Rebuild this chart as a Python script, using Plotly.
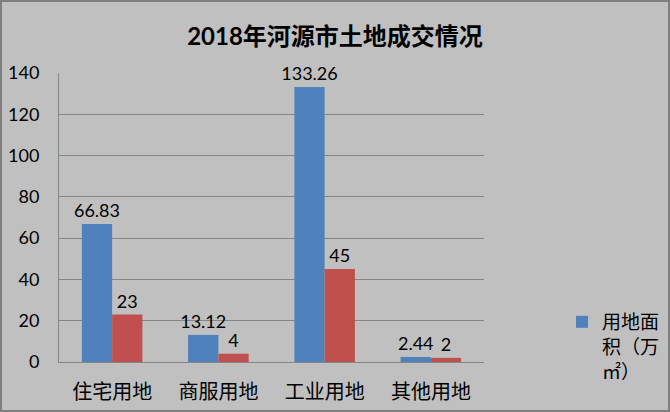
import plotly.graph_objects as go

categories = ["住宅用地", "商服用地", "工业用地", "其他用地"]
area_values = [66.83, 13.12, 133.26, 2.44]
count_values = [23, 4, 45, 2]
area_labels = ["66.83", "13.12", "133.26", "2.44"]
count_labels = ["23", "4", "45", "2"]

FONT = "Lato, 'Noto Sans CJK SC', sans-serif"
W, H = 670, 412
L, R, T, B = 59, 186, 73, 50

fig = go.Figure()
fig.add_trace(go.Bar(x=categories, y=area_values, name="用地面<br>积（万<br>㎡）",
                     marker=dict(color="#4F81BD", line=dict(width=0)),
                     text=area_labels, textposition="outside", cliponaxis=False,
                     constraintext="none",
                     textfont=dict(size=18, color="#000000")))
fig.add_trace(go.Bar(x=categories, y=count_values, name="宗数",
                     marker=dict(color="#C0504D", line=dict(width=0)),
                     text=count_labels, textposition="outside", cliponaxis=False,
                     constraintext="none", showlegend=False,
                     textfont=dict(size=18, color="#000000")))

pw = W - L - R
ph = H - T - B
fig.add_shape(type="rect", xref="paper", yref="paper",
              x0=-(L - 1) / pw, x1=(W - L - 1) / pw,
              y0=-(B - 1) / ph, y1=(H - B - 1) / ph,
              line=dict(color="#7F7F7F", width=2), fillcolor="rgba(0,0,0,0)", layer="below")

fig.update_layout(
    width=W, height=H,
    margin=dict(l=L, r=R, t=T, b=B, autoexpand=False),
    paper_bgcolor="#C0C0C0", plot_bgcolor="#C0C0C0",
    font=dict(family=FONT, size=18, color="#000000"),
    title=dict(text="<b>2018年河源市土地成交情况</b>", x=0.5, xref="container", xanchor="center",
               y=1 - 37 / H, yref="container", yanchor="middle",
               font=dict(size=24, family=FONT, color="#000000")),
    barmode="group", bargap=0.43, bargroupgap=0,
    showlegend=True,
    legend=dict(x=(562 - L) / pw, y=(362 - 303) / ph, xref="paper", yref="paper",
                xanchor="left", yanchor="top", bgcolor="rgba(0,0,0,0)", valign="top",
                font=dict(size=19, family=FONT), itemwidth=30, traceorder="normal"),
    xaxis=dict(showgrid=False, showline=True, linecolor="#868686", linewidth=1,
               ticks="", tickfont=dict(size=20), ticklabelstandoff=12),
    yaxis=dict(range=[0, 140], dtick=20, showgrid=True, gridcolor="#868686", gridwidth=1,
               showline=True, linecolor="#868686", linewidth=1, zeroline=False,
               ticks="", ticklabelstandoff=15, tickfont=dict(size=18)),
)

fig.write_html("out.html")
